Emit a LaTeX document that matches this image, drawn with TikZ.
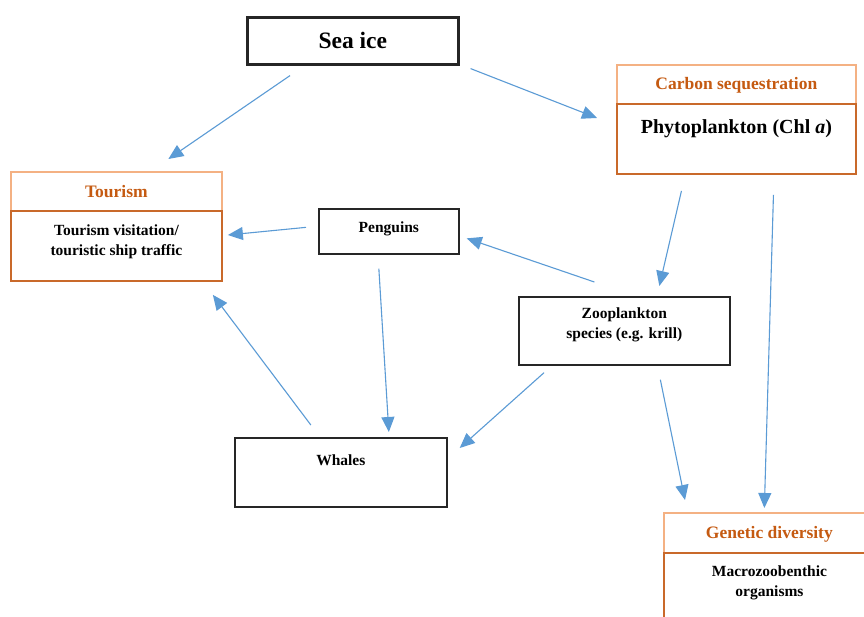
\documentclass[tikz,border=0pt]{standalone}
\usepackage{fontspec}
\setmainfont{Liberation Serif}
\usetikzlibrary{arrows.meta}
\definecolor{hdrline}{HTML}{F4B183}
\definecolor{hdrtext}{HTML}{C55A11}
\definecolor{orgline}{HTML}{C9692A}
\definecolor{arrblue}{HTML}{5B9BD5}

\begin{document}
\begin{tikzpicture}[x=1pt,y=-1pt,
box/.style={draw=black!85,line width=1.7pt,inner sep=0pt,anchor=north west,align=center,font=\fontsize{15.5}{20}\selectfont\bfseries},
hdr/.style={box,draw=hdrline,text=hdrtext,font=\fontsize{17.5}{21}\selectfont\bfseries},
obox/.style={box,draw=orgline,line width=1.9pt},
arr/.style={draw=arrblue,line width=1.1pt,-{Triangle[length=15pt,width=13pt]}}]
\clip (0,0) rectangle (864,617);
\fill[white] (0,0) rectangle (864,617);
\node[box,line width=2.6pt,minimum width=211pt,text height=31pt,text depth=16pt,font=\fontsize{23.5}{27}\selectfont\bfseries] (ice) at (246,16) {Sea ice};
\node[hdr,minimum width=239pt,text height=25pt,text depth=14pt] (carb) at (616,64) {Carbon sequestration};
\node[obox,minimum width=239pt,text height=30pt,text depth=40pt,font=\fontsize{20}{24}\selectfont\bfseries] (phyto) at (616,103) {Phytoplankton (Chl \textit{a})};
\node[hdr,minimum width=211pt,text height=26pt,text depth=13pt] (tour) at (10,171) {Tourism};
\node[obox,minimum width=211pt,text height=45pt,text depth=25pt] (visit) at (10,210) {Tourism visitation/\\touristic ship traffic};
\node[box,minimum width=140pt,text height=24pt,text depth=21pt] (peng) at (318,208) {Penguins};
\node[box,minimum width=211pt,text height=42pt,text depth=26pt] (zoo) at (518,296) {Zooplankton\\species (e.g. krill)};
\node[box,minimum width=212pt,text height=28pt,text depth=41pt] (whale) at (234,437) {Whales};
\node[hdr,minimum width=211pt,text height=26pt,text depth=14pt] (gen) at (663,512) {Genetic diversity};
\node[obox,minimum width=211pt,text height=44pt,text depth=26pt] (benth) at (663,552) {Macrozoobenthic\\organisms};
\draw[arr] ([shift={(44,10)}]ice.south west) -- ([shift={(52,-12)}]tour.north);
\draw[arr] ([shift={(11,3)}]ice.south east) -- ([shift={(-19,15)}]phyto.north west);
\draw[arr] ([shift={(-12,-4)}]peng.west) -- ([shift={(5,25)}]visit.north east);
\draw[arr] ([shift={(-30,-14)}]zoo.north) -- ([shift={(7,7)}]peng.east);
\draw[arr] ([shift={(-55,16)}]phyto.south) -- ([shift={(35,-10)}]zoo.north);
\draw[arr] ([shift={(37,20)}]phyto.south) -- ([shift={(-5,-4)}]gen.north);
\draw[arr] ([shift={(-10,14)}]peng.south) -- ([shift={(48,-5)}]whale.north);
\draw[arr] ([shift={(26,7)}]zoo.south west) -- ([shift={(12,11)}]whale.north east);
\draw[arr] ([shift={(36,14)}]zoo.south) -- ([shift={(22,-12)}]gen.north west);
\draw[arr] ([shift={(-30,-12)}]whale.north) -- ([shift={(-10,13)}]visit.south east);
\end{tikzpicture}
\end{document}
